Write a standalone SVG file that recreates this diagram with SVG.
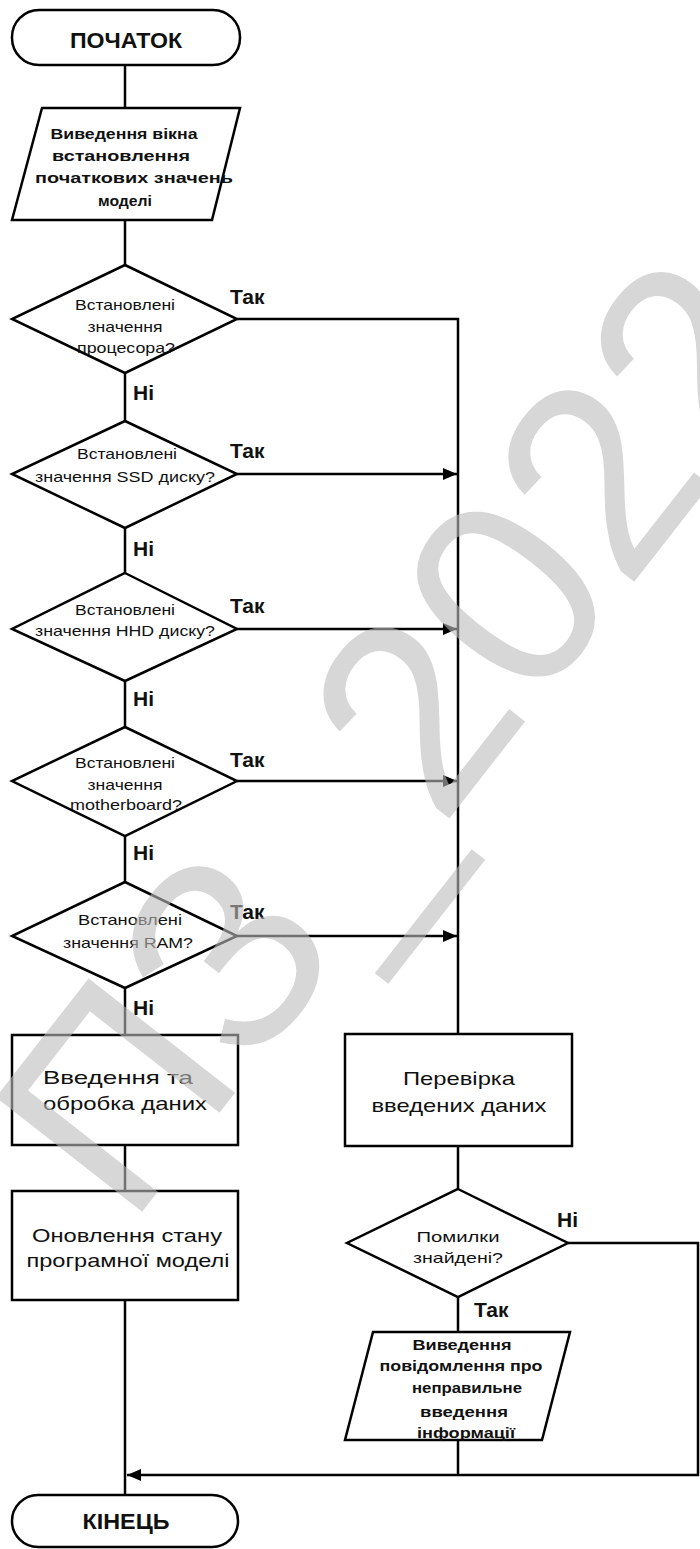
<svg xmlns="http://www.w3.org/2000/svg" width="700" height="1549" viewBox="0 0 700 1549">
<style>
.ln{stroke:#000;stroke-width:2.5;fill:none}
.sh{fill:#fff;stroke:#000;stroke-width:2.5}
.t{font-family:"Liberation Sans",Arial,sans-serif;text-anchor:middle;fill:#111}
.d{font-size:15px}
.p{font-size:15px;font-weight:bold}
.b{font-size:19px}
.term{font-size:22px;font-weight:bold}
.lab{font-family:"Liberation Sans",Arial,sans-serif;font-size:21px;font-weight:bold;fill:#111}
.wm{font-family:"Liberation Sans",Arial,sans-serif;font-size:270px;fill:#bdbdbd;opacity:0.6}
</style>
<defs>
<marker id="arr" markerUnits="userSpaceOnUse" markerWidth="14" markerHeight="12" refX="14" refY="6" orient="auto">
<path d="M0,0 L14,6 L0,12 z" fill="#000"/>
</marker>
</defs>
<rect width="700" height="1549" fill="#fff"/>

<g id="connectors">
<path class="ln" d="M125,65 V108"/>
<path class="ln" d="M125,220 V265"/>
<path class="ln" d="M125,373 V421"/>
<path class="ln" d="M125,528 V573"/>
<path class="ln" d="M125,681 V727"/>
<path class="ln" d="M125,836 V882"/>
<path class="ln" d="M125,988 V1035"/>
<path class="ln" d="M125,1145 V1191"/>
<path class="ln" d="M125,1300 V1495"/>
<path class="ln" d="M237,319 H458 V1034"/>
<path class="ln" d="M237,474 H457" marker-end="url(#arr)"/>
<path class="ln" d="M237,629 H457" marker-end="url(#arr)"/>
<path class="ln" d="M237,781 H457" marker-end="url(#arr)"/>
<path class="ln" d="M237,936 H457" marker-end="url(#arr)"/>
<path class="ln" d="M458,1146 V1189"/>
<path class="ln" d="M458,1297 V1332"/>
<path class="ln" d="M458,1440 V1475"/>
<path class="ln" d="M568,1243 H698 V1475 H127" marker-end="url(#arr)"/>
<text class="lab" x="230" y="304">Так</text>
<text class="lab" x="230" y="458">Так</text>
<text class="lab" x="230" y="613">Так</text>
<text class="lab" x="230" y="767">Так</text>
<text class="lab" x="230" y="919">Так</text>
<text class="lab" x="133" y="400" font-size="22">Ні</text>
<text class="lab" x="133" y="556" font-size="22">Ні</text>
<text class="lab" x="133" y="706" font-size="22">Ні</text>
<text class="lab" x="133" y="860" font-size="22">Ні</text>
<text class="lab" x="133" y="1015" font-size="22">Ні</text>
<text class="lab" x="557" y="1227" font-size="19">Ні</text>
<text class="lab" x="474" y="1317" font-size="21">Так</text>
</g>

<g id="start">
<rect class="sh" x="12" y="10" width="228" height="55" rx="27"/>
<text class="t term" x="126" y="48" textLength="112" lengthAdjust="spacingAndGlyphs">ПОЧАТОК</text>
</g>

<g id="input-window">
<polygon class="sh" points="42,108 240,108 212,220 12,220"/>
<text class="t p" x="124" y="139" textLength="147" lengthAdjust="spacingAndGlyphs">Виведення вікна</text>
<text class="t p" x="121" y="161" textLength="138" lengthAdjust="spacingAndGlyphs">встановлення</text>
<text class="t p" x="134" y="183" textLength="198" lengthAdjust="spacingAndGlyphs">початкових значень</text>
<text class="t p" x="125" y="206" textLength="54" lengthAdjust="spacingAndGlyphs">моделі</text>
</g>

<g id="check-cpu">
<polygon class="sh" points="125,265 237,319 125,373 12,319"/>
<text class="t d" x="125" y="310" textLength="100" lengthAdjust="spacingAndGlyphs">Встановлені</text>
<text class="t d" x="125" y="332" textLength="75" lengthAdjust="spacingAndGlyphs">значення</text>
<text class="t d" x="126" y="353" textLength="98" lengthAdjust="spacingAndGlyphs">процесора?</text>
</g>

<g id="check-ssd">
<polygon class="sh" points="125,421 237,474 125,528 12,474"/>
<text class="t d" x="127" y="459" textLength="100" lengthAdjust="spacingAndGlyphs">Встановлені</text>
<text class="t d" x="125" y="482" textLength="180" lengthAdjust="spacingAndGlyphs">значення SSD диску?</text>
</g>

<g id="check-hdd">
<polygon class="sh" points="125,573 237,629 125,681 12,629"/>
<text class="t d" x="125" y="615" textLength="100" lengthAdjust="spacingAndGlyphs">Встановлені</text>
<text class="t d" x="125" y="636" textLength="180" lengthAdjust="spacingAndGlyphs">значення HHD диску?</text>
</g>

<g id="check-motherboard">
<polygon class="sh" points="125,727 237,781 125,836 12,781"/>
<text class="t d" x="125" y="768" textLength="100" lengthAdjust="spacingAndGlyphs">Встановлені</text>
<text class="t d" x="125" y="790" textLength="75" lengthAdjust="spacingAndGlyphs">значення</text>
<text class="t d" x="126" y="810" textLength="112" lengthAdjust="spacingAndGlyphs">motherboard?</text>
</g>

<g id="check-ram">
<polygon class="sh" points="125,882 237,936 125,988 12,936"/>
<text class="t d" x="130" y="925" textLength="104" lengthAdjust="spacingAndGlyphs">Встановлені</text>
<text class="t d" x="128" y="948" textLength="130" lengthAdjust="spacingAndGlyphs">значення RAM?</text>
</g>

<g id="process-data">
<rect class="sh" x="12" y="1035" width="226" height="110"/>
<text class="t b" x="118" y="1084" textLength="150" lengthAdjust="spacingAndGlyphs">Введення та</text>
<text class="t b" x="125" y="1110" textLength="164" lengthAdjust="spacingAndGlyphs">обробка даних</text>
</g>

<g id="verify-data">
<rect class="sh" x="345" y="1034" width="227" height="112"/>
<text class="t b" x="459" y="1085" textLength="112" lengthAdjust="spacingAndGlyphs">Перевірка</text>
<text class="t b" x="459" y="1112" textLength="175" lengthAdjust="spacingAndGlyphs">введених даних</text>
</g>

<g id="update-model">
<rect class="sh" x="12" y="1191" width="226" height="109"/>
<text class="t b" x="127" y="1242" textLength="190" lengthAdjust="spacingAndGlyphs">Оновлення стану</text>
<text class="t b" x="128" y="1267" textLength="203" lengthAdjust="spacingAndGlyphs">програмної моделі</text>
</g>

<g id="errors-found">
<polygon class="sh" points="458,1189 568,1243 458,1297 347,1243"/>
<text class="t d" x="458" y="1242" textLength="83" lengthAdjust="spacingAndGlyphs">Помилки</text>
<text class="t d" x="458" y="1263" textLength="90" lengthAdjust="spacingAndGlyphs">знайдені?</text>
</g>

<g id="error-message">
<polygon class="sh" points="373,1332 570,1332 542,1440 345,1440"/>
<text class="t p" x="462" y="1350" textLength="99" lengthAdjust="spacingAndGlyphs">Виведення</text>
<text class="t p" x="461" y="1371" textLength="163" lengthAdjust="spacingAndGlyphs">повідомлення про</text>
<text class="t p" x="467" y="1393" textLength="110" lengthAdjust="spacingAndGlyphs">неправильне</text>
<text class="t p" x="464" y="1417" textLength="88" lengthAdjust="spacingAndGlyphs">введення</text>
<text class="t p" x="466" y="1438" textLength="98" lengthAdjust="spacingAndGlyphs">інформації</text>
</g>

<g id="end">
<rect class="sh" x="12" y="1495" width="226" height="52" rx="26"/>
<text class="t term" x="126" y="1529" textLength="87" lengthAdjust="spacingAndGlyphs">КІНЕЦЬ</text>
</g>

<text class="wm" transform="rotate(-7 420 910) translate(92,1191) rotate(-45)">ПЗ_2022</text>
</svg>
